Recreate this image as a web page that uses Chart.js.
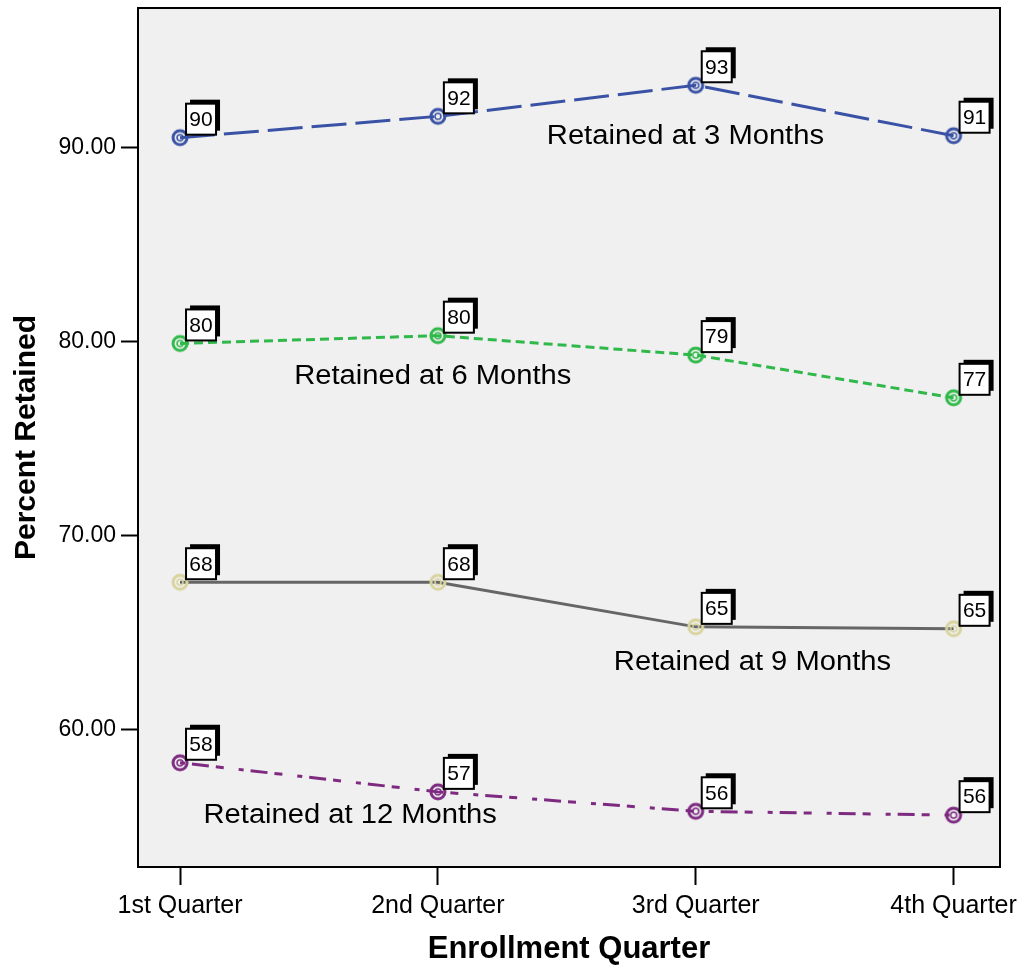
<!DOCTYPE html>
<html>
<head>
<meta charset="utf-8">
<script src="https://cdn.jsdelivr.net/npm/chart.js@4.4.1/dist/chart.umd.min.js"></script>
<style>
  html, body { margin: 0; padding: 0; background: #fff; }
  #wrap { width: 1023px; height: 966px; }
</style>
</head>
<body>
<div id="wrap"><canvas id="retention_chart"></canvas></div>
<script>
// 분기 라벨
const quarters = ['1st Quarter', '2nd Quarter', '3rd Quarter', '4th Quarter'];
const yTicks = [60, 70, 80, 90];

// 유지율 값
const retained3 = [90.5, 91.6, 93.2, 90.6];
const retained6 = [79.9, 80.3, 79.3, 77.1];
const retained9 = [67.6, 67.6, 65.3, 65.2];
const retained12 = [58.3, 56.8, 55.8, 55.6];

// 점 위의 박스 라벨
const labels3 = ['90', '92', '93', '91'];
const labels6 = ['80', '80', '79', '77'];
const labels9 = ['68', '68', '65', '65'];
const labels12 = ['58', '57', '56', '56'];

// 선 이름과 위치 (x: 분기 인덱스, y: 값)
const seriesNames = ['Retained at 3 Months', 'Retained at 6 Months', 'Retained at 9 Months', 'Retained at 12 Months'];
const nameX = [1.96, 0.98, 2.22, 0.66];
const nameY = [90.57, 78.18, 63.47, 55.56];

const FONT = 'Liberation Sans, Arial, sans-serif';

function toPoints(values) {
	return values.map((v, i) => ({ x: i, y: v }));
}

// 점 모양 (바깥 원 + 안쪽 작은 원)
function makeMarker(color) {
	const c = document.createElement('canvas');
	c.width = 20; c.height = 20;
	const g = c.getContext('2d');
	g.strokeStyle = color;
	g.lineWidth = 3;
	g.beginPath(); g.arc(10, 10, 7, 0, Math.PI * 2); g.stroke();
	g.lineWidth = 1.5;
	g.beginPath(); g.arc(10, 10, 3, 0, Math.PI * 2); g.stroke();
	return c;
}

// 배경과 테두리, 박스 라벨을 그리는 플러그인
const framePlugin = {
	id: 'frame',
	beforeDatasetsDraw(chart) {
		const { ctx, chartArea: a } = chart;
		ctx.save();
		ctx.fillStyle = '#f0f0f0';
		ctx.fillRect(a.left, a.top, a.right - a.left, a.bottom - a.top);
		ctx.restore();
	},
	afterDatasetsDraw(chart) {
		const { ctx, chartArea: a, scales } = chart;
		ctx.save();
		ctx.strokeStyle = '#000';
		ctx.lineWidth = 2;
		ctx.strokeRect(a.left, a.top, a.right - a.left, a.bottom - a.top);

		// 박스 라벨
		chart.data.datasets.forEach((ds, di) => {
			const meta = chart.getDatasetMeta(di);
			meta.data.forEach((pt, i) => {
				const bx = pt.x + 6;
				const by = pt.y - 34;
				const w = 30, h = 31;
				ctx.fillStyle = '#000';
				ctx.fillRect(bx + 4, by - 4, w, h);
				ctx.fillStyle = '#fff';
				ctx.fillRect(bx, by, w, h);
				ctx.strokeStyle = '#000';
				ctx.lineWidth = 2;
				ctx.strokeRect(bx, by, w, h);
				ctx.fillStyle = '#000';
				ctx.font = '21px ' + FONT;
				ctx.textAlign = 'center';
				ctx.textBaseline = 'middle';
				ctx.fillText(ds.boxLabels[i], bx + w / 2, by + h / 2 + 1);
			});
		});

		// 선 이름 (원본 글꼴이 약간 가로로 넓어서 늘려서 그림)
		ctx.fillStyle = '#000';
		ctx.font = '27px ' + FONT;
		ctx.textAlign = 'center';
		ctx.textBaseline = 'middle';
		seriesNames.forEach((name, i) => {
			const px = scales.x.getPixelForValue(nameX[i]);
			const py = scales.y.getPixelForValue(nameY[i]);
			ctx.save();
			ctx.translate(px, py);
			ctx.scale(1.08, 1);
			ctx.fillText(name, 0, 0);
			ctx.restore();
		});
		ctx.restore();
	}
};

const ctx = document.getElementById('retention_chart').getContext('2d');
new Chart(ctx, {
	type: 'line',
	data: {
		datasets: [
			{
				data: toPoints(retained3), boxLabels: labels3,
				borderColor: '#3a52a5', pointStyle: makeMarker('#3a52a5'),
				borderDash: [35, 9]
			},
			{
				data: toPoints(retained6), boxLabels: labels6,
				borderColor: '#30b94a', pointStyle: makeMarker('#30b94a'),
				borderDash: [9, 5]
			},
			{
				data: toPoints(retained9), boxLabels: labels9,
				borderColor: '#666666', pointStyle: makeMarker('#d8d49e'),
				borderDash: []
			},
			{
				data: toPoints(retained12), boxLabels: labels12,
				borderColor: '#7d2a80', pointStyle: makeMarker('#7d2a80'),
				borderDash: [5, 7, 17, 7, 8, 15]
			}
		]
	},
	options: {
		responsive: true,
		maintainAspectRatio: false,
		animation: false,
		layout: { padding: { top: 7, right: 23, bottom: 0, left: 0 } },
		elements: {
			line: { borderWidth: 3, tension: 0, fill: false },
			point: { radius: 7 }
		},
		plugins: {
			legend: { display: false },
			tooltip: { enabled: false }
		},
		scales: {
			x: {
				type: 'linear',
				min: -0.163,
				max: 3.18,
				afterBuildTicks: (scale) => { scale.ticks = quarters.map((q, i) => ({ value: i })); },
				afterFit: (scale) => {
					scale.height = 99;
					scale.paddingLeft = 0; scale.paddingRight = 0;
				},
				ticks: {
					color: '#000',
					font: { family: FONT, size: 25 },
					padding: 6,
					maxRotation: 0,
					callback: (v) => quarters[v]
				},
				grid: { drawOnChartArea: false, tickLength: 18, tickWidth: 2, tickColor: '#000' },
				border: { display: true, color: '#000', width: 2 },
				title: {
					display: true,
					text: 'Enrollment Quarter',
					color: '#000',
					font: { family: FONT, size: 31, weight: 'bold', lineHeight: 1.0 },
					padding: { top: 10, bottom: 1 }
				}
			},
			y: {
				type: 'linear',
				min: 52.93,
				max: 97.18,
				afterBuildTicks: (scale) => { scale.ticks = yTicks.map(v => ({ value: v })); },
				afterFit: (scale) => {
					scale.width = 138;
					scale.paddingTop = 0; scale.paddingBottom = 0;
				},
				ticks: {
					color: '#000',
					font: { family: FONT, size: 23 },
					padding: 5,
					callback: (v) => v.toFixed(2)
				},
				grid: { drawOnChartArea: false, tickLength: 17, tickWidth: 2, tickColor: '#000' },
				border: { display: true, color: '#000', width: 2 },
				title: {
					display: true,
					text: 'Percent Retained',
					color: '#000',
					font: { family: FONT, size: 30, weight: 'bold' },
					padding: { top: 9, bottom: 0 }
				}
			}
		}
	},
	plugins: [framePlugin]
});
</script>
</body>
</html>
